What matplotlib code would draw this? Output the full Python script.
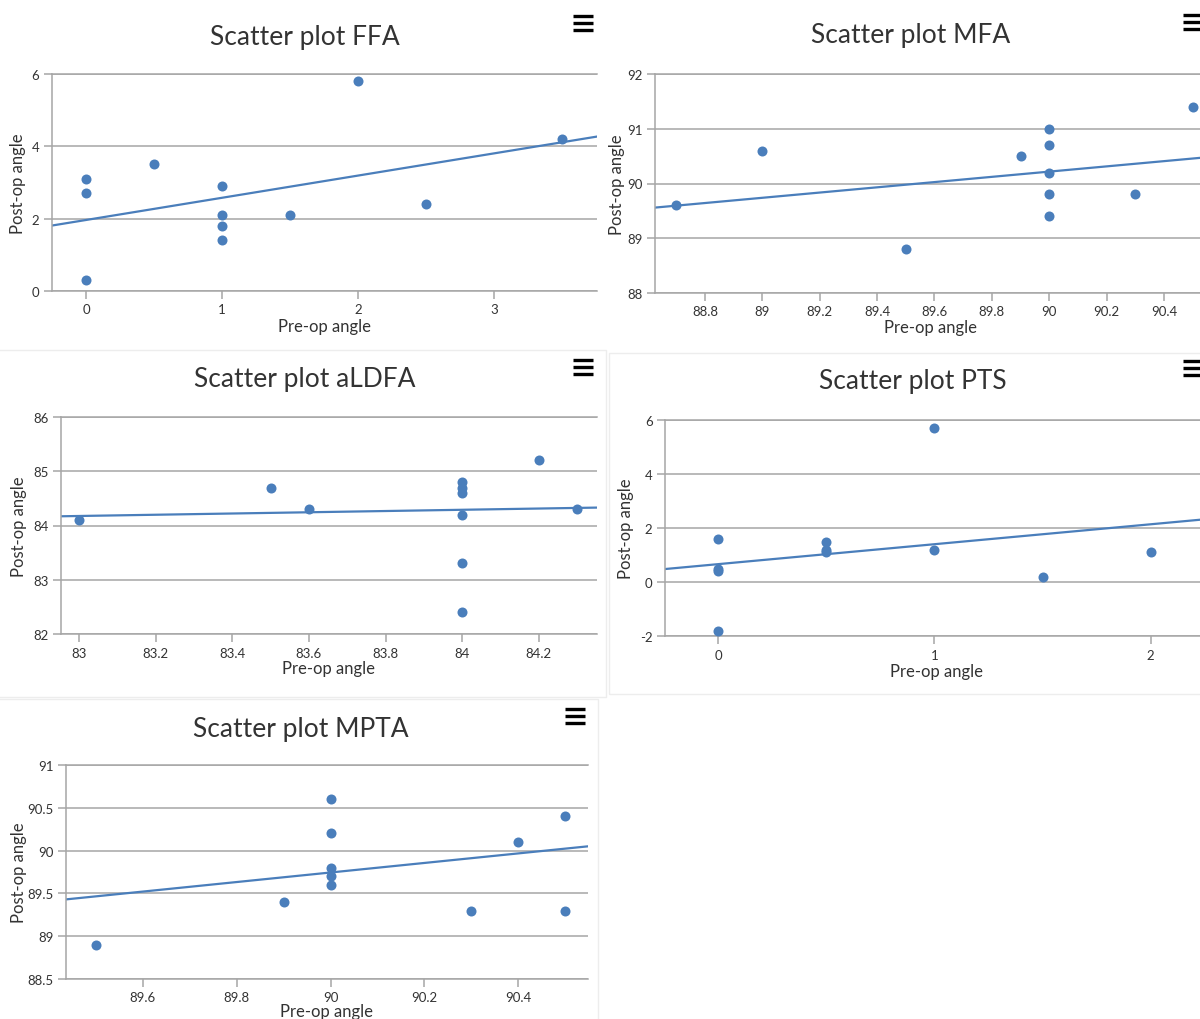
import numpy as np
import matplotlib
matplotlib.use('Agg')
import matplotlib.pyplot as plt
from matplotlib.lines import Line2D
from matplotlib.patches import Rectangle
from matplotlib.ticker import FuncFormatter

plt.rcParams['font.family'] = ['Lato', 'DejaVu Sans']

W, H = 1200, 1020
DOT = '#4a7ebb'
GRID = '#a6a6a6'
TXT = '#333333'

# FFA
ffa_pre = [0, 0, 0, 0.5, 1, 1, 1, 1, 1.5, 2, 2.5, 3.5]
ffa_post = [3.1, 2.7, 0.3, 3.5, 2.9, 2.1, 1.8, 1.4, 2.1, 5.8, 2.4, 4.2]
ffa_trend = [1.81, 4.27]  # trend line value at left / right edge of the plot
ffa_xticks = [0, 1, 2, 3]
ffa_yticks = [0, 2, 4, 6]

# MFA
mfa_pre = [88.7, 89.0, 89.5, 89.9, 90, 90, 90, 90, 90, 90.3, 90.5]
mfa_post = [89.6, 90.6, 88.8, 90.5, 91.0, 90.7, 90.2, 89.8, 89.4, 89.8, 91.4]
mfa_trend = [89.56, 90.48]
mfa_xticks = [88.8, 89, 89.2, 89.4, 89.6, 89.8, 90, 90.2, 90.4]
mfa_yticks = [88, 89, 90, 91, 92]

# aLDFA
aldfa_pre = [83, 83.5, 83.6, 84, 84, 84, 84, 84, 84, 84.2, 84.3]
aldfa_post = [84.1, 84.7, 84.3, 84.8, 84.7, 84.6, 84.2, 83.3, 82.4, 85.2, 84.3]
aldfa_trend = [84.17, 84.33]
aldfa_xticks = [83, 83.2, 83.4, 83.6, 83.8, 84, 84.2]
aldfa_yticks = [82, 83, 84, 85, 86]

# PTS
pts_pre = [0, 0, 0, 0, 0.5, 0.5, 0.5, 1, 1, 1.5, 2]
pts_post = [1.6, 0.5, 0.4, -1.8, 1.5, 1.2, 1.1, 5.7, 1.2, 0.2, 1.1]
pts_trend = [0.48, 2.33]
pts_xticks = [0, 1, 2]
pts_yticks = [-2, 0, 2, 4, 6]

# MPTA
mpta_pre = [89.5, 89.9, 90, 90, 90, 90, 90, 90.3, 90.4, 90.5, 90.5]
mpta_post = [88.9, 89.4, 90.6, 90.2, 89.8, 89.7, 89.6, 89.3, 90.1, 90.4, 89.3]
mpta_trend = [89.43, 90.05]
mpta_xticks = [89.6, 89.8, 90, 90.2, 90.4]
mpta_yticks = [88.5, 89, 89.5, 90, 90.5, 91]


def fx(x):
    return x / W


def fy(y):
    return 1 - y / H


fig = plt.figure(figsize=(W / 100, H / 100), dpi=100)
fig.patch.set_facecolor('white')

# faint panel frames
for (x0, y0, x1, y1) in [(-2, 351, 606, 698), (609, 354, 1212, 695), (-2, 700, 598, 1030)]:
    fig.add_artist(Rectangle((fx(x0), fy(y1)), fx(x1 - x0), (y1 - y0) / H,
                             fill=False, ec='#ededed', lw=1, transform=fig.transFigure))


def hamburger(x0, y0):
    for k in range(3):
        yy = fy(y0 + k * 7)
        fig.add_artist(Line2D([fx(x0), fx(x0 + 20)], [yy, yy], color='black',
                              lw=2.4, solid_capstyle='butt', transform=fig.transFigure))


def panel(box, pre, post, trend, xlim, ylim, xticks, yticks, title, tpos, xlab_y, ylab_x, menu):
    left, right, top, bottom = box
    ax = fig.add_axes([fx(left), fy(bottom), fx(right - left), (bottom - top) / H])
    ax.set_xlim(*xlim)
    ax.set_ylim(*ylim)
    ax.set_xticks(xticks)
    ax.set_yticks(yticks)
    fmt = FuncFormatter(lambda v, p: '{:g}'.format(round(v, 6)))
    ax.xaxis.set_major_formatter(fmt)
    ax.yaxis.set_major_formatter(fmt)
    ax.yaxis.grid(True, color=GRID, lw=1.1)
    ax.set_axisbelow(True)
    for s in ['top', 'left', 'bottom']:
        ax.spines[s].set_color(GRID)
        ax.spines[s].set_linewidth(1.1)
    ax.spines['right'].set_visible(False)
    ax.tick_params(axis='both', colors=GRID, labelcolor=TXT, labelsize=9.5, length=6, width=1.1)
    ax.tick_params(axis='y', pad=3)
    ax.tick_params(axis='x', pad=3)

    # trend line across the whole plot width
    ax.plot(list(xlim), trend, color=DOT, lw=1.6, zorder=2)
    ax.scatter(pre, post, s=52, color=DOT, zorder=3, linewidths=0, clip_on=False)

    fig.text(fx(tpos[0]), fy(tpos[1]), title, ha='center', va='center', fontsize=19, color=TXT)
    fig.text(fx((left + right) / 2), fy(xlab_y),
             'Pre-op angle', ha='center', va='center', fontsize=12, color=TXT)
    fig.text(fx(ylab_x), fy((top + bottom) / 2), 'Post-op angle', ha='center', va='center',
             rotation=90, fontsize=12, color=TXT)
    hamburger(*menu)
    return ax


panel((52, 597, 75, 292), ffa_pre, ffa_post, ffa_trend, (-0.25, 3.757), (0, 6),
      ffa_xticks, ffa_yticks, 'Scatter plot FFA', (305, 37), 327, 18, (573, 17))
panel((655, 1207, 75, 294), mfa_pre, mfa_post, mfa_trend, (88.626, 90.55), (88, 92),
      mfa_xticks, mfa_yticks, 'Scatter plot MFA', (911, 36), 328, 617, (1183, 16))
panel((61, 597, 418, 635), aldfa_pre, aldfa_post, aldfa_trend, (82.953, 84.352), (82, 86),
      aldfa_xticks, aldfa_yticks, 'Scatter plot aLDFA', (305, 380), 669, 19, (573, 361))
panel((665, 1207, 421, 637), pts_pre, pts_post, pts_trend, (-0.245, 2.26), (-2, 6),
      pts_xticks, pts_yticks, 'Scatter plot PTS', (913, 382), 672, 626, (1183, 362))
panel((66, 588, 766, 980), mpta_pre, mpta_post, mpta_trend, (89.436, 90.549), (88.5, 91),
      mpta_xticks, mpta_yticks, 'Scatter plot MPTA', (301, 729), 1012, 19, (565, 710))

fig.savefig('out.png', dpi=100, facecolor='white')
